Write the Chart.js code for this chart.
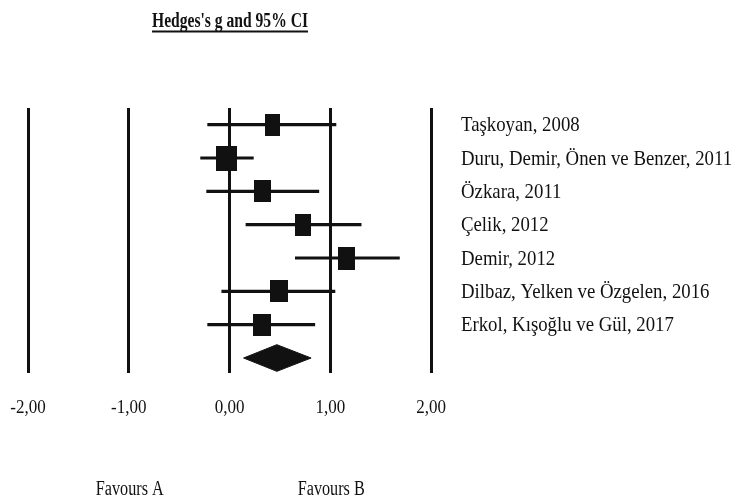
<!DOCTYPE html>
<html>
<head>
<meta charset="utf-8">
<script src="https://cdn.jsdelivr.net/npm/chart.js@4/dist/chart.umd.min.js"></script>
<style>
  html, body { margin: 0; padding: 0; background: #ffffff; }
  #wrap { width: 736px; height: 499px; }
</style>
</head>
<body>
<div id="wrap"><canvas id="c" width="736" height="499"></canvas></div>
<script>
// ---------- data ----------
const studies = [
  'Taşkoyan, 2008',
  'Duru, Demir, Önen ve Benzer, 2011',
  'Özkara, 2011',
  'Çelik, 2012',
  'Demir, 2012',
  'Dilbaz, Yelken ve Özgelen, 2016',
  'Erkol, Kışoğlu ve Gül, 2017'
];
const hedgesG = [0.43, -0.03, 0.33, 0.73, 1.16, 0.49, 0.32];
const ciLower = [-0.22, -0.29, -0.23, 0.16, 0.65, -0.08, -0.22];
const ciUpper = [1.06, 0.24, 0.89, 1.31, 1.69, 1.05, 0.85];
const pooledG = [0.47];
const pooledLower = [0.14];
const pooledUpper = [0.81];
const tickValues = [-2, -1, 0, 1, 2];
const tickLabels = ['-2,00', '-1,00', '0,00', '1,00', '2,00'];
const favourLabels = ['Favours A', 'Favours B'];
const favourAt = [-1, 1];
const titleText = "Hedges's g and 95% CI";

// ---------- styles ----------
const INK = '#111111';
const SERIF = '"Liberation Serif", "Times New Roman", serif';
const markerSizes = [[15, 22], [21, 25], [17, 22], [16, 22], [17, 23], [18, 22], [18, 22]];
const diamondHalf = 0.4;

function boxImage(w, h) {
  const cv = document.createElement('canvas');
  cv.width = w; cv.height = h;
  const c = cv.getContext('2d');
  c.fillStyle = INK;
  c.fillRect(0, 0, w, h);
  return cv;
}

const rowOf = i => i + 1;
const pooledRow = studies.length + 1;

const datasets = [];
// squares (on top)
datasets.push({
  label: 'g',
  data: hedgesG.map((g, i) => ({ x: g, y: rowOf(i) })),
  pointStyle: markerSizes.map(s => boxImage(s[0], s[1])),
  pointRadius: 10,
  backgroundColor: INK,
  borderColor: INK,
  showLine: false,
  order: 0
});
// confidence interval lines
studies.forEach((s, i) => {
  datasets.push({
    label: s,
    data: [{ x: ciLower[i], y: rowOf(i) }, { x: ciUpper[i], y: rowOf(i) }],
    showLine: true,
    borderColor: INK,
    borderWidth: 3.2,
    pointRadius: 0,
    order: 1
  });
});
// pooled diamond
datasets.push({
  label: 'pooled',
  data: [
    { x: pooledLower[0], y: pooledRow },
    { x: pooledG[0], y: pooledRow - diamondHalf },
    { x: pooledUpper[0], y: pooledRow },
    { x: pooledG[0], y: pooledRow + diamondHalf },
    { x: pooledLower[0], y: pooledRow }
  ],
  showLine: true,
  fill: 'shape',
  backgroundColor: INK,
  borderColor: INK,
  borderWidth: 1,
  pointRadius: 0,
  tension: 0,
  order: 0
});

function drawStretched(ctx, text, x, y, font, align, sx, sy) {
  ctx.save();
  ctx.translate(x, y);
  ctx.scale(sx, sy);
  ctx.font = font;
  ctx.textAlign = align;
  ctx.textBaseline = 'alphabetic';
  ctx.fillStyle = INK;
  ctx.fillText(text, 0, 0);
  const w = ctx.measureText(text).width * sx;
  ctx.restore();
  return w;
}

const textPlugin = {
  id: 'forestText',
  afterDraw(chart) {
    const ctx = chart.ctx;
    const xs = chart.scales.x, ys = chart.scales.y;
    // title
    const tFont = 'bold 15.6px ' + SERIF;
    const tx = 230, tyBase = 26.7;
    const tw = drawStretched(ctx, titleText, tx, tyBase, tFont, 'center', 1, 1.32);
    ctx.save();
    ctx.fillStyle = INK;
    ctx.fillRect(tx - tw / 2, 30.5, tw, 2);
    ctx.restore();
    // study labels
    studies.forEach((s, i) => {
      const y = ys.getPixelForValue(rowOf(i)) + 6.8;
      drawStretched(ctx, s, 461, y, '18.8px ' + SERIF, 'left', 1, 1.07);
    });
    // tick labels
    tickValues.forEach((v, i) => {
      drawStretched(ctx, tickLabels[i], xs.getPixelForValue(v), 413, '17px ' + SERIF, 'center', 1, 1.05);
    });
    // favours
    favourLabels.forEach((t, i) => {
      drawStretched(ctx, t, xs.getPixelForValue(favourAt[i]) + 1, 495, '16.2px ' + SERIF, 'center', 1, 1.35);
    });
  }
};

new Chart(document.getElementById('c'), {
  type: 'scatter',
  data: { datasets },
  options: {
    responsive: false,
    animation: false,
    events: [],
    layout: { padding: { left: 28, right: 305, top: 108, bottom: 126 } },
    plugins: {
      legend: { display: false },
      tooltip: { enabled: false },
      title: { display: false }
    },
    scales: {
      x: {
        type: 'linear',
        min: -2, max: 2,
        afterBuildTicks: s => { s.ticks = tickValues.map(v => ({ value: v })); },
        ticks: { display: false },
        grid: { color: INK, lineWidth: 3, drawTicks: false },
        border: { display: false }
      },
      y: {
        type: 'linear',
        reverse: true,
        min: 0.5, max: 8.45,
        display: false
      }
    }
  },
  plugins: [textPlugin]
});
</script>
</body>
</html>
